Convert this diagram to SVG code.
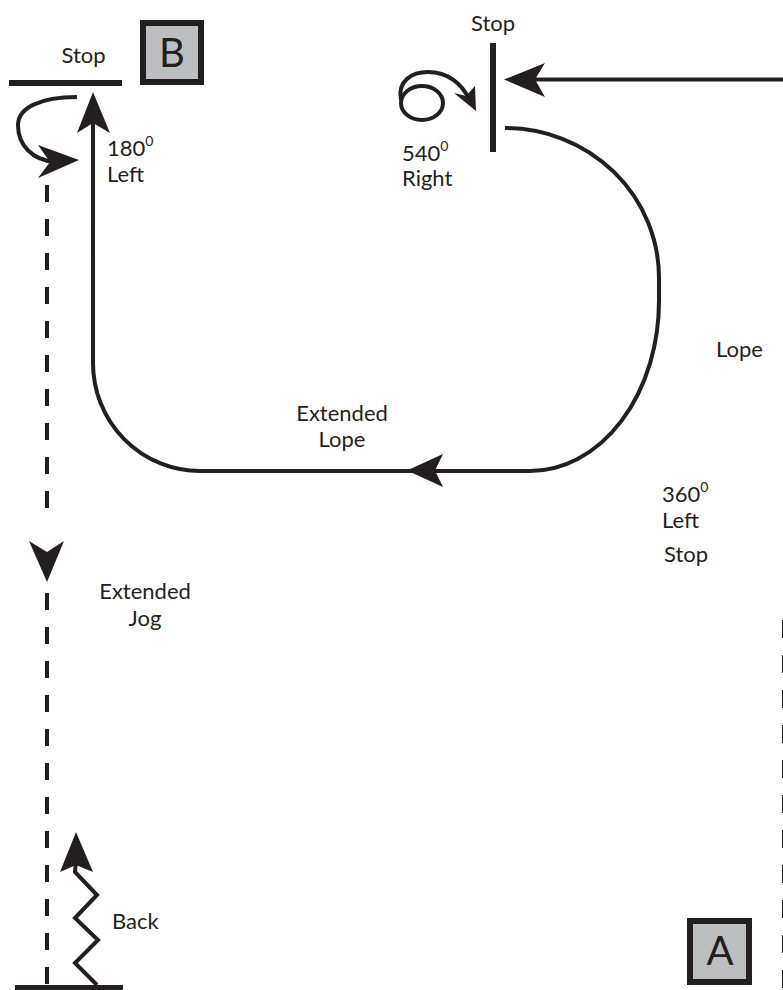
<svg xmlns="http://www.w3.org/2000/svg" width="783" height="990" viewBox="0 0 783 990">
<style>
.ln{fill:none;stroke:#231f20;stroke-width:4}
.hd{fill:#231f20;stroke:none}
.tx{font-family:Lato,"Liberation Sans",sans-serif;font-size:22px;fill:#231f20}
.sup{font-size:14px}
.box{fill:#bcbec0;stroke:#231f20;stroke-width:6}
.bl{font-family:Lato,"Liberation Sans",sans-serif;font-size:40px;fill:#231f20;text-anchor:middle}
.bar{fill:#231f20}
</style>
<defs>
<clipPath id="clipR"><rect x="0" y="0" width="709" height="990"/></clipPath>
</defs>
<rect width="783" height="990" fill="#ffffff"/>

<g id="stopB">
<rect class="bar" x="9" y="80" width="113" height="6"/>
<text class="tx" x="83.5" y="63" text-anchor="middle">Stop</text>
</g>
<g id="markerB">
<rect class="box" x="143" y="23" width="58" height="59"/>
<text class="bl" x="172" y="67">B</text>
</g>
<g id="stopTop">
<rect class="bar" x="490" y="43" width="6" height="109"/>
<text class="tx" x="493" y="31" text-anchor="middle">Stop</text>
</g>
<g id="turn540">
<text class="tx" x="402" y="161">540<tspan class="sup" dy="-10">0</tspan></text>
<text class="tx" x="402" y="186">Right</text>
</g>
<g id="turn180">
<text class="tx" x="107" y="156">180<tspan class="sup" dy="-10">0</tspan></text>
<text class="tx" x="107" y="182">Left</text>
</g>
<g id="lopeLabel">
<text class="tx" x="716" y="357">Lope</text>
</g>
<g id="extLope">
<text class="tx" x="342" y="421" text-anchor="middle">Extended</text>
<text class="tx" x="342" y="447" text-anchor="middle">Lope</text>
</g>
<g id="turn360" clip-path="url(#clipR)">
<text class="tx" x="662" y="502">360<tspan class="sup" dy="-10">0</tspan></text>
<text class="tx" x="662" y="528">Left</text>
<text class="tx" x="664" y="562">Stop</text>
</g>
<g id="extJog">
<text class="tx" x="145" y="599" text-anchor="middle">Extended</text>
<text class="tx" x="145" y="626" text-anchor="middle">Jog</text>
</g>
<g id="back">
<text class="tx" x="112" y="929">Back</text>
<rect class="bar" x="15" y="985" width="108" height="5"/>
</g>
<g id="markerA">
<rect class="box" x="690" y="921" width="59" height="61"/>
<text class="bl" x="720" y="965">A</text>
</g>

<g id="connectors">
<line class="ln" x1="783" y1="79.5" x2="530" y2="79.5"/>
<polygon class="hd" points="504,79.5 545,63 535,79.5 545,97"/>
<path class="ln" d="M505,128 A154,150 0 0 1 659,278 L659,300 A129,170 0 0 1 530,471 L200,471 A107,108 0 0 1 93,363 L93,120"/>
<polygon class="hd" points="407,470.5 443,454 435,470.5 443,487"/>
<polygon class="hd" points="93,92 77,133 93,123 110,133"/>
<path class="ln" d="M77,97 C40,97 18,108 18,125 C18,145 32,160 55,162"/>
<polygon class="hd" points="79,160 38,145 50,162 38,178"/>
<ellipse class="ln" cx="422" cy="103" rx="21" ry="17"/>
<path class="ln" d="M401,100 C397,81 412,72 428,72 C448,72 462,84 469,99"/>
<polygon class="hd" points="476,111 454,93 466,96 475,86"/>
<line class="ln" x1="47" y1="185" x2="47" y2="508" stroke-width="5" stroke-dasharray="17 17"/>
<line class="ln" x1="47" y1="593" x2="47" y2="985" stroke-width="5" stroke-dasharray="17 17"/>
<polygon class="hd" points="47,582 29,541 47,552 64,541"/>
<polyline class="ln" points="97,985 75,963 98,940 75,918 97,895 75,872 76,860"/>
<polygon class="hd" points="76,832 60,872 76,865 93,872"/>
<line class="ln" x1="784" y1="620" x2="784" y2="990" stroke-width="5" stroke-dasharray="18 17"/>
</g>
</svg>
